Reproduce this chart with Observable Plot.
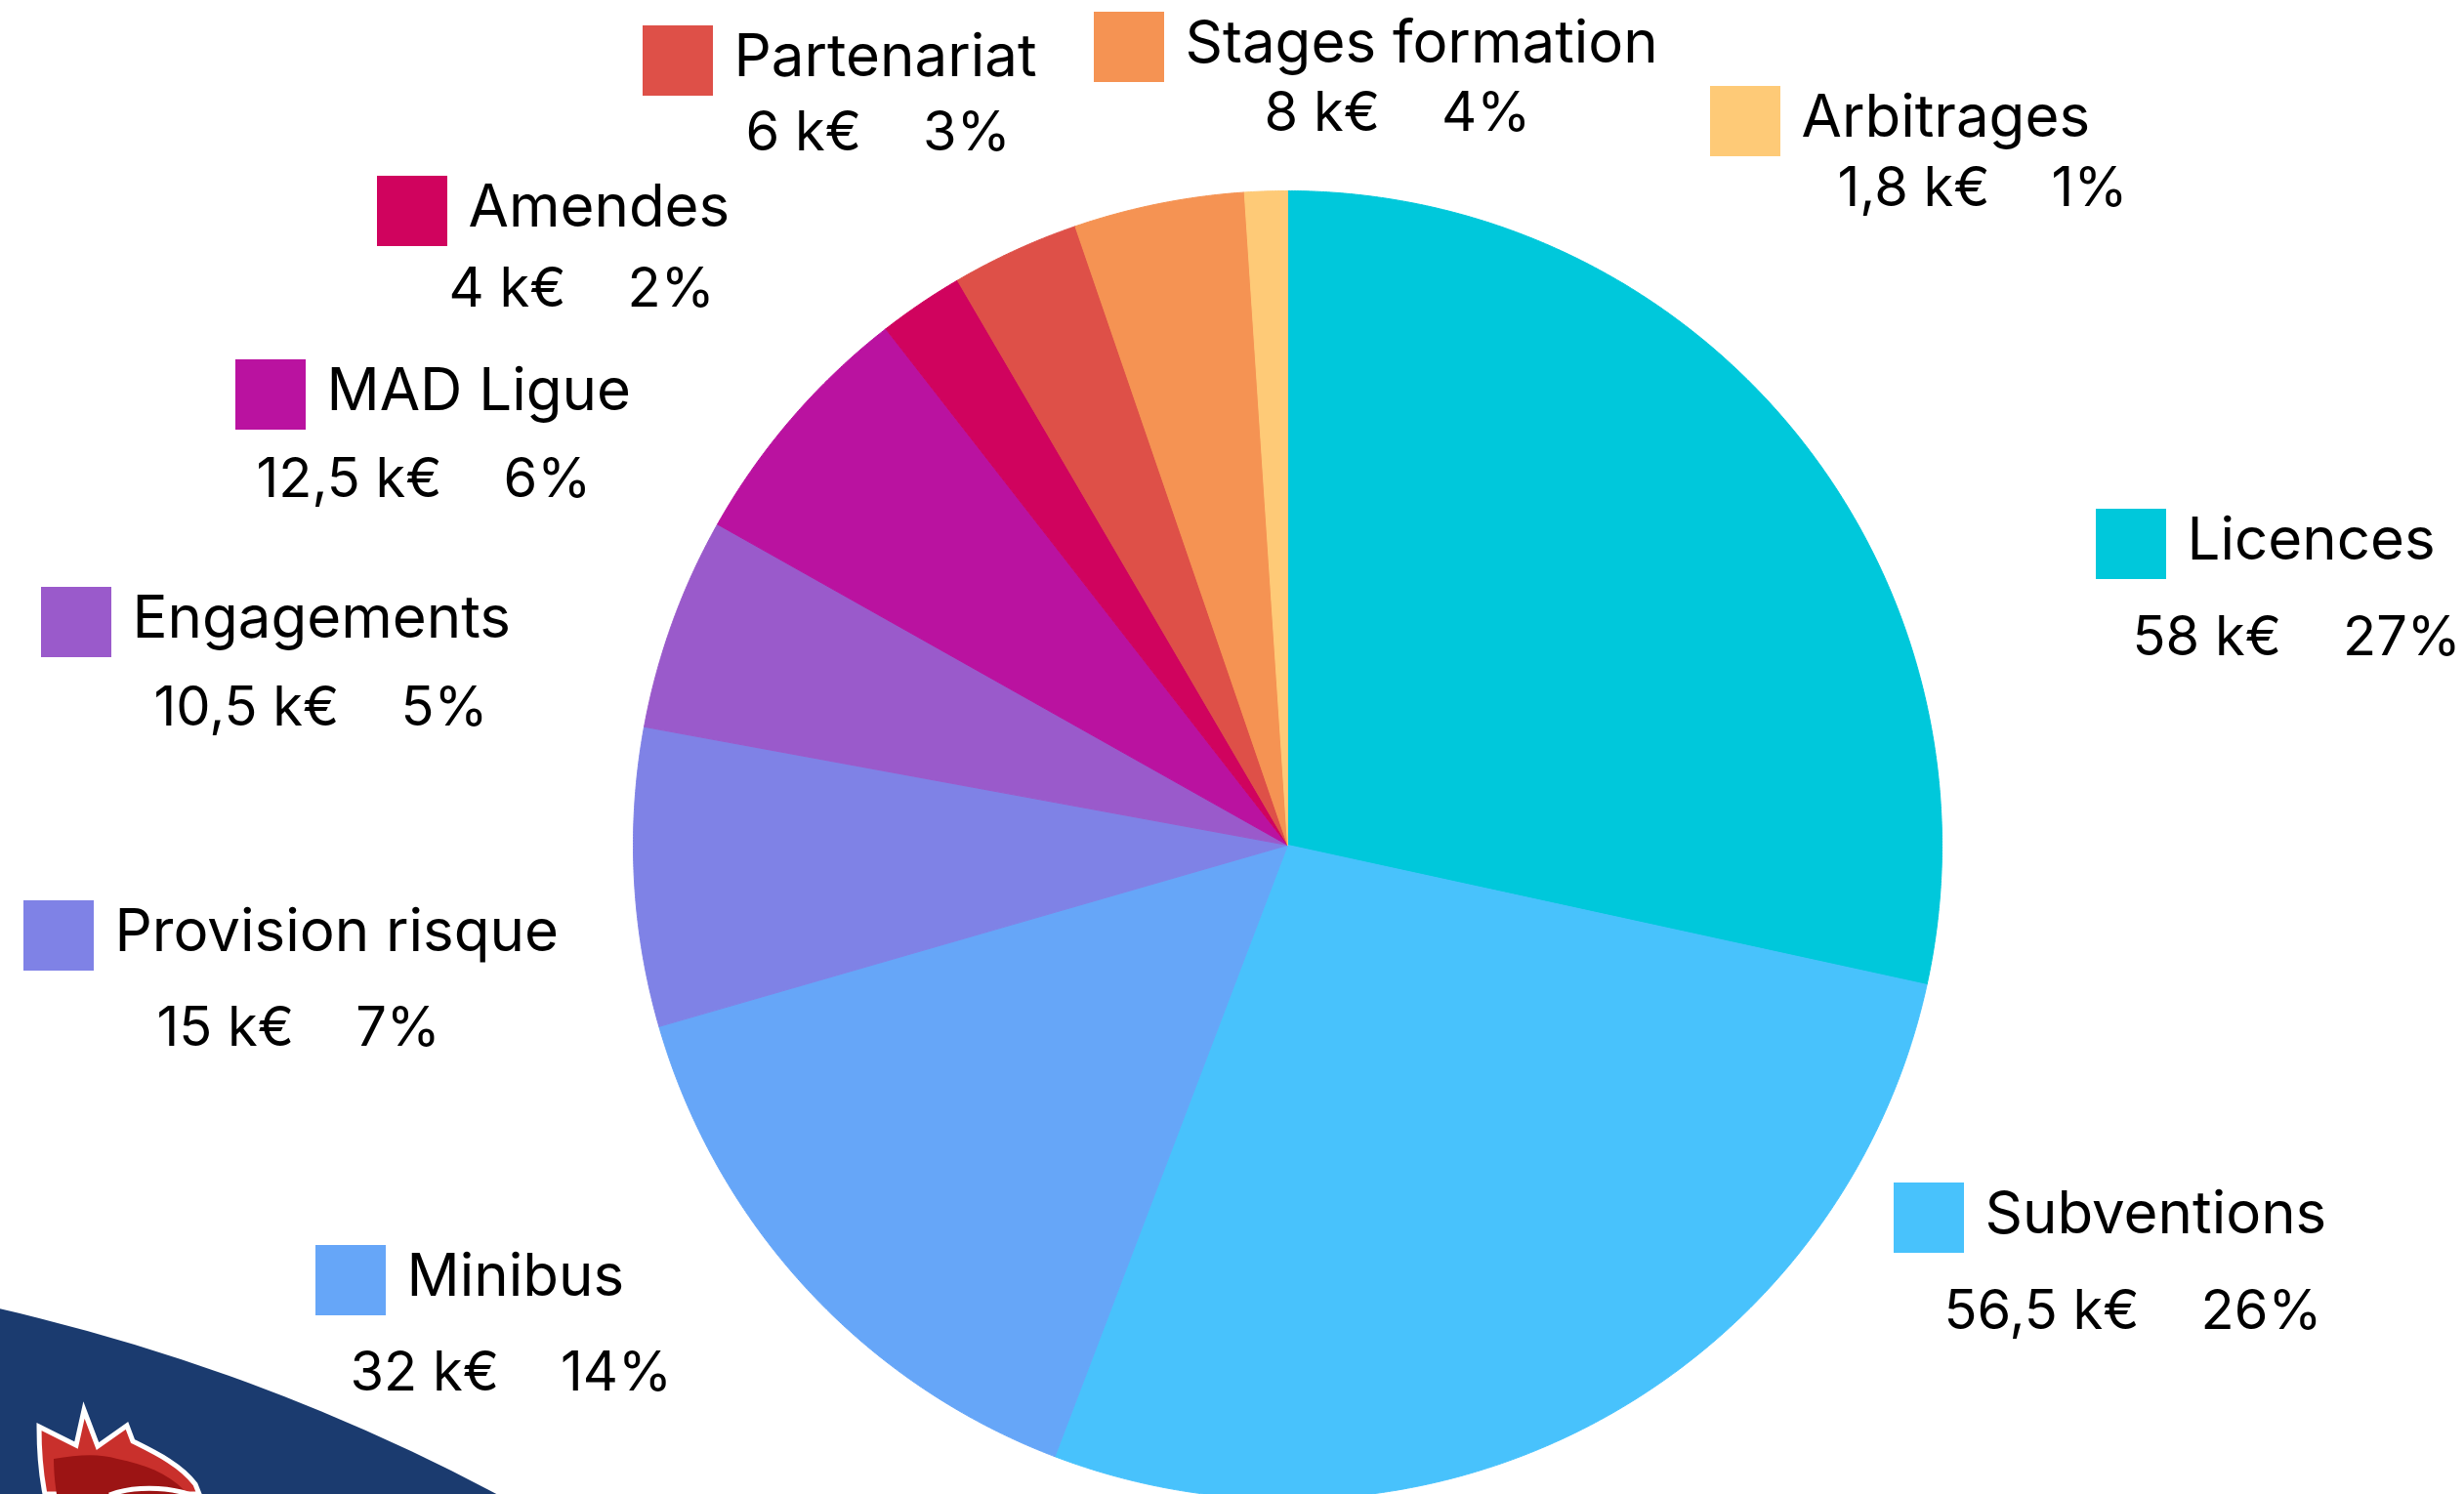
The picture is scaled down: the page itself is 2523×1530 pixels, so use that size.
<!DOCTYPE html>
<html>
<head>
<meta charset="utf-8">
<script src="https://cdn.jsdelivr.net/npm/d3@7"></script>
<script src="https://cdn.jsdelivr.net/npm/@observablehq/plot@0.6"></script>
<style>
  html, body { margin: 0; padding: 0; background: #ffffff; overflow: hidden; }
  #wrap { position: relative; width: 2523px; height: 1530px; overflow: hidden; background: #ffffff; }
  #band { position: absolute; left: -2528px; top: 1288px; width: 4132px; height: 4132px; border-radius: 50%; background: #1b3b6f; }
  #chart { position: absolute; left: 0; top: 0; }
  #logo { position: absolute; left: 0; top: 0; }
</style>
</head>
<body>
<div id="wrap">
  <div id="band"></div>
  <div id="chart"></div>
  <svg id="logo" width="2523" height="1530" viewBox="0 0 2523 1530">
    <path d="M40,1461 L78,1480 L86,1444 L100,1481 L130,1460 L136,1476 C160,1488 185,1500 200,1520 L204,1530 L46,1530 C42,1510 40,1485 40,1461 Z"
          fill="#c9302c" stroke="#ffffff" stroke-width="5" stroke-linejoin="miter"/>
    <path d="M55,1494 C80,1490 100,1488 120,1494 C150,1500 175,1510 192,1530 L58,1530 C56,1518 55,1505 55,1494 Z" fill="#9c1414"/>
    <path d="M112,1531 C135,1522 170,1522 196,1531" fill="none" stroke="#ffffff" stroke-width="5"/>
  </svg>
</div>
<script>
// ---- data ----
const categories = ["Licences", "Subventions", "Minibus", "Provision risque", "Engagements", "MAD Ligue", "Amendes", "Partenariat", "Stages formation", "Arbitrages"];
const amountLabels = ["58 k€", "56,5 k€", "32 k€", "15 k€", "10,5 k€", "12,5 k€", "4 k€", "6 k€", "8 k€", "1,8 k€"];
const shareValues = [27, 26, 14, 7, 5, 6, 2, 3, 4, 1];
const shareLabels = ["27%", "26%", "14%", "7%", "5%", "6%", "2%", "3%", "4%", "1%"];
const sliceColors = ["#00c8db", "#48c2fc", "#66a6f8", "#7f82e6", "#9a5acb", "#ba12a0", "#d0035e", "#de5048", "#f59353", "#feca77"];

// ---- layout (pixels) ----
const W = 2523, H = 1530;
const CX = 1318, CY = 865, R = 670;
const SQ = 72, FS = 60, FSV = 56;
// [square left, square top, amount-line left, amount-line baseline]
const labelLayout = [
  [2146, 521, 2183, 670],
  [1939, 1211, 1990, 1360],
  [323, 1275, 358, 1423],
  [24, 922, 160, 1070],
  [42, 601, 157, 742],
  [241, 368, 262, 508],
  [386, 180, 459, 313],
  [658, 26, 763, 153],
  [1120, 12, 1294, 133],
  [1751, 88, 1881, 210]
];

const arcs = d3.pie().sort(null).value(d => d)(shareValues);
const slicePts = [];
arcs.forEach((a, i) => {
  const name = categories[i];
  slicePts.push({name, x: CX, y: CY});
  const n = Math.max(4, Math.ceil((a.endAngle - a.startAngle) / (Math.PI / 720)));
  for (let k = 0; k <= n; k++) {
    const t = a.startAngle + (a.endAngle - a.startAngle) * k / n;
    slicePts.push({name, x: CX + R * Math.sin(t), y: CY - R * Math.cos(t)});
  }
  slicePts.push({name, x: CX, y: CY});
});

const labels = categories.map((name, i) => ({
  name,
  amount: amountLabels[i],
  share: shareLabels[i],
  sx: labelLayout[i][0], sy: labelLayout[i][1],
  vx: labelLayout[i][2], vb: labelLayout[i][3]
}));

const chart = Plot.plot({
  width: W, height: H, margin: 0,
  x: {domain: [0, W], range: [0, W], axis: null},
  y: {domain: [0, H], range: [0, H], axis: null},
  color: {domain: categories, range: sliceColors},
  style: {background: "transparent", fontFamily: "Inter, 'Noto Sans', sans-serif", overflow: "visible"},
  marks: [
    Plot.line(slicePts, {x: "x", y: "y", fill: "name", stroke: "name", strokeWidth: 1, curve: "linear"}),
    Plot.rect(labels, {x1: "sx", x2: d => d.sx + SQ, y1: "sy", y2: d => d.sy + SQ, fill: "name"}),
    Plot.text(labels, {x: d => d.sx + SQ + 21, y: d => d.sy + 51 - 0.32 * FS, text: "name", textAnchor: "start", lineAnchor: "middle", fontSize: FS, fill: "#000"}),
    Plot.text(labels, {x: "vx", y: d => d.vb - 0.32 * FSV, text: d => d.amount + " \u00A0\u00A0\u00A0" + d.share, textAnchor: "start", lineAnchor: "middle", fontSize: FSV, fill: "#000"})
  ]
});
document.getElementById("chart").appendChild(chart);
</script>
</body>
</html>
